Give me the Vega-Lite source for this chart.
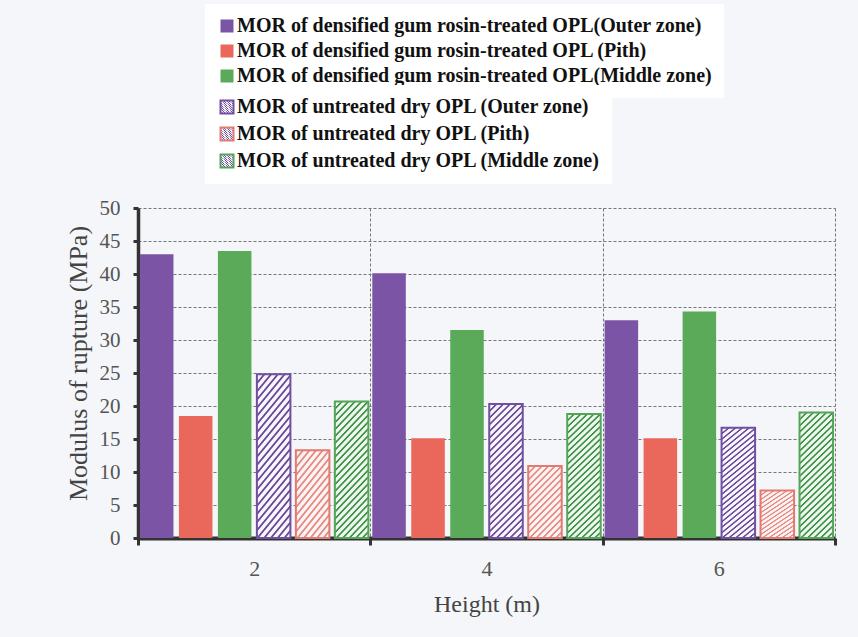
{
  "$schema": "https://vega.github.io/schema/vega-lite/v6.json",
  "width": 697,
  "height": 330,
  "autosize": {"type": "none"},
  "padding": {"left": 138, "top": 208, "right": 23, "bottom": 99},
  "background": "#f4f6f9",
  "config": {
    "view": {"stroke": null},
    "font": "Liberation Serif"
  },
  "data": {
    "values": [
      {"Height": "2", "series": "MOR of densified gum rosin-treated OPL(Outer zone)", "MOR": 43.0},
      {"Height": "2", "series": "MOR of densified gum rosin-treated OPL (Pith)", "MOR": 18.5},
      {"Height": "2", "series": "MOR of densified gum rosin-treated OPL(Middle zone)", "MOR": 43.5},
      {"Height": "2", "series": "MOR of untreated dry OPL (Outer zone)", "MOR": 24.8},
      {"Height": "2", "series": "MOR of untreated dry OPL (Pith)", "MOR": 13.3},
      {"Height": "2", "series": "MOR of untreated dry OPL (Middle zone)", "MOR": 20.7},
      {"Height": "4", "series": "MOR of densified gum rosin-treated OPL(Outer zone)", "MOR": 40.1},
      {"Height": "4", "series": "MOR of densified gum rosin-treated OPL (Pith)", "MOR": 15.1},
      {"Height": "4", "series": "MOR of densified gum rosin-treated OPL(Middle zone)", "MOR": 31.5},
      {"Height": "4", "series": "MOR of untreated dry OPL (Outer zone)", "MOR": 20.3},
      {"Height": "4", "series": "MOR of untreated dry OPL (Pith)", "MOR": 10.9},
      {"Height": "4", "series": "MOR of untreated dry OPL (Middle zone)", "MOR": 18.8},
      {"Height": "6", "series": "MOR of densified gum rosin-treated OPL(Outer zone)", "MOR": 33.0},
      {"Height": "6", "series": "MOR of densified gum rosin-treated OPL (Pith)", "MOR": 15.1},
      {"Height": "6", "series": "MOR of densified gum rosin-treated OPL(Middle zone)", "MOR": 34.3},
      {"Height": "6", "series": "MOR of untreated dry OPL (Outer zone)", "MOR": 16.7},
      {"Height": "6", "series": "MOR of untreated dry OPL (Pith)", "MOR": 7.2},
      {"Height": "6", "series": "MOR of untreated dry OPL (Middle zone)", "MOR": 19.0}
    ]
  },
  "encoding": {
    "x": {
      "field": "Height", "type": "ordinal",
      "scale": {"paddingInner": 0, "paddingOuter": 0},
      "axis": {
        "title": "Height (m)", "labelAngle": 0, "tickBand": "extent",
        "grid": true, "gridDash": [3, 2], "gridColor": "#777", "gridWidth": 1,
        "ticks": true, "tickSize": 7, "tickWidth": 3, "tickColor": "#333",
        "domainColor": "#333", "domainWidth": 4,
        "labelFont": "Liberation Serif", "labelFontSize": 22, "labelColor": "#555", "labelPadding": 13,
        "titleFont": "Liberation Serif", "titleFontSize": 24, "titleFontWeight": "normal", "titleColor": "#444", "titlePadding": 13
      }
    },
    "xOffset": {
      "field": "series", "type": "nominal",
      "scale": {
        "domain": [
          "MOR of densified gum rosin-treated OPL(Outer zone)",
          "MOR of densified gum rosin-treated OPL (Pith)",
          "MOR of densified gum rosin-treated OPL(Middle zone)",
          "MOR of untreated dry OPL (Outer zone)",
          "MOR of untreated dry OPL (Pith)",
          "MOR of untreated dry OPL (Middle zone)"
        ],
        "paddingInner": 0.14, "paddingOuter": 0.05
      }
    },
    "y": {
      "field": "MOR", "type": "quantitative",
      "scale": {"domain": [0, 50], "nice": false},
      "axis": {
        "title": "Modulus of rupture (MPa)",
        "values": [0, 5, 10, 15, 20, 25, 30, 35, 40, 45, 50],
        "grid": true, "gridDash": [3, 2], "gridColor": "#777", "gridWidth": 1,
        "tickSize": 5, "tickWidth": 3, "tickColor": "#333",
        "domainColor": "#333", "domainWidth": 3.5,
        "labelFont": "Liberation Serif", "labelFontSize": 21, "labelColor": "#555", "labelPadding": 13,
        "titleFont": "Liberation Serif", "titleFontSize": 26, "titleFontWeight": "normal", "titleColor": "#444", "titlePadding": 8, "titleY": 155
      }
    }
  },
  "layer": [
    {
      "transform": [{"filter": "indexof(datum.series, 'densified') >= 0"}],
      "mark": {"type": "bar"},
      "encoding": {
        "color": {
          "field": "series", "type": "nominal",
          "scale": {
            "domain": [
              "MOR of densified gum rosin-treated OPL(Outer zone)",
              "MOR of densified gum rosin-treated OPL (Pith)",
              "MOR of densified gum rosin-treated OPL(Middle zone)"
            ],
            "range": ["#7b54a6", "#e9675b", "#5aaa5a"]
          },
          "legend": {
            "orient": "none", "legendX": 67, "legendY": -204,
            "title": null,
            "labelFont": "Liberation Serif", "labelFontSize": 20, "labelFontWeight": "bold", "labelColor": "#111",
            "labelLimit": 0, "labelOffset": 0,
            "symbolType": "square", "symbolSize": 169,
            "rowPadding": 5, "padding": 12, "fillColor": "#ffffff"
          }
        }
      }
    },
    {
      "transform": [{"filter": "datum.series === 'MOR of untreated dry OPL (Outer zone)'"}],
      "mark": {
        "type": "bar", "strokeWidth": 2,
        "fill": {
          "gradient": "linear", "x1": 0, "y1": 0, "x2": 0.292, "y2": 1.176,
          "stops": [
            {"offset": 0, "color": "#6b4c9a"}, {"offset": 0.008, "color": "#6b4c9a"}, {"offset": 0.014, "color": "#f8f6fb"}, {"offset": 0.034, "color": "#f8f6fb"},
            {"offset": 0.04, "color": "#6b4c9a"}, {"offset": 0.048, "color": "#6b4c9a"}, {"offset": 0.054, "color": "#f8f6fb"}, {"offset": 0.074, "color": "#f8f6fb"},
            {"offset": 0.08, "color": "#6b4c9a"}, {"offset": 0.088, "color": "#6b4c9a"}, {"offset": 0.094, "color": "#f8f6fb"}, {"offset": 0.114, "color": "#f8f6fb"},
            {"offset": 0.12, "color": "#6b4c9a"}, {"offset": 0.128, "color": "#6b4c9a"}, {"offset": 0.134, "color": "#f8f6fb"}, {"offset": 0.154, "color": "#f8f6fb"},
            {"offset": 0.16, "color": "#6b4c9a"}, {"offset": 0.168, "color": "#6b4c9a"}, {"offset": 0.174, "color": "#f8f6fb"}, {"offset": 0.194, "color": "#f8f6fb"},
            {"offset": 0.2, "color": "#6b4c9a"}, {"offset": 0.208, "color": "#6b4c9a"}, {"offset": 0.214, "color": "#f8f6fb"}, {"offset": 0.234, "color": "#f8f6fb"},
            {"offset": 0.24, "color": "#6b4c9a"}, {"offset": 0.248, "color": "#6b4c9a"}, {"offset": 0.254, "color": "#f8f6fb"}, {"offset": 0.274, "color": "#f8f6fb"},
            {"offset": 0.28, "color": "#6b4c9a"}, {"offset": 0.288, "color": "#6b4c9a"}, {"offset": 0.294, "color": "#f8f6fb"}, {"offset": 0.314, "color": "#f8f6fb"},
            {"offset": 0.32, "color": "#6b4c9a"}, {"offset": 0.328, "color": "#6b4c9a"}, {"offset": 0.334, "color": "#f8f6fb"}, {"offset": 0.354, "color": "#f8f6fb"},
            {"offset": 0.36, "color": "#6b4c9a"}, {"offset": 0.368, "color": "#6b4c9a"}, {"offset": 0.374, "color": "#f8f6fb"}, {"offset": 0.394, "color": "#f8f6fb"},
            {"offset": 0.4, "color": "#6b4c9a"}, {"offset": 0.408, "color": "#6b4c9a"}, {"offset": 0.414, "color": "#f8f6fb"}, {"offset": 0.434, "color": "#f8f6fb"},
            {"offset": 0.44, "color": "#6b4c9a"}, {"offset": 0.448, "color": "#6b4c9a"}, {"offset": 0.454, "color": "#f8f6fb"}, {"offset": 0.474, "color": "#f8f6fb"},
            {"offset": 0.48, "color": "#6b4c9a"}, {"offset": 0.488, "color": "#6b4c9a"}, {"offset": 0.494, "color": "#f8f6fb"}, {"offset": 0.514, "color": "#f8f6fb"},
            {"offset": 0.52, "color": "#6b4c9a"}, {"offset": 0.528, "color": "#6b4c9a"}, {"offset": 0.534, "color": "#f8f6fb"}, {"offset": 0.554, "color": "#f8f6fb"},
            {"offset": 0.56, "color": "#6b4c9a"}, {"offset": 0.568, "color": "#6b4c9a"}, {"offset": 0.574, "color": "#f8f6fb"}, {"offset": 0.594, "color": "#f8f6fb"},
            {"offset": 0.6, "color": "#6b4c9a"}, {"offset": 0.608, "color": "#6b4c9a"}, {"offset": 0.614, "color": "#f8f6fb"}, {"offset": 0.634, "color": "#f8f6fb"},
            {"offset": 0.64, "color": "#6b4c9a"}, {"offset": 0.648, "color": "#6b4c9a"}, {"offset": 0.654, "color": "#f8f6fb"}, {"offset": 0.674, "color": "#f8f6fb"},
            {"offset": 0.68, "color": "#6b4c9a"}, {"offset": 0.688, "color": "#6b4c9a"}, {"offset": 0.694, "color": "#f8f6fb"}, {"offset": 0.714, "color": "#f8f6fb"},
            {"offset": 0.72, "color": "#6b4c9a"}, {"offset": 0.728, "color": "#6b4c9a"}, {"offset": 0.734, "color": "#f8f6fb"}, {"offset": 0.754, "color": "#f8f6fb"},
            {"offset": 0.76, "color": "#6b4c9a"}, {"offset": 0.768, "color": "#6b4c9a"}, {"offset": 0.774, "color": "#f8f6fb"}, {"offset": 0.794, "color": "#f8f6fb"},
            {"offset": 0.8, "color": "#6b4c9a"}, {"offset": 0.808, "color": "#6b4c9a"}, {"offset": 0.814, "color": "#f8f6fb"}, {"offset": 0.834, "color": "#f8f6fb"},
            {"offset": 0.84, "color": "#6b4c9a"}, {"offset": 0.848, "color": "#6b4c9a"}, {"offset": 0.854, "color": "#f8f6fb"}, {"offset": 0.874, "color": "#f8f6fb"},
            {"offset": 0.88, "color": "#6b4c9a"}, {"offset": 0.888, "color": "#6b4c9a"}, {"offset": 0.894, "color": "#f8f6fb"}, {"offset": 0.914, "color": "#f8f6fb"},
            {"offset": 0.92, "color": "#6b4c9a"}, {"offset": 0.928, "color": "#6b4c9a"}, {"offset": 0.934, "color": "#f8f6fb"}, {"offset": 0.954, "color": "#f8f6fb"},
            {"offset": 0.96, "color": "#6b4c9a"}, {"offset": 0.968, "color": "#6b4c9a"}, {"offset": 0.974, "color": "#f8f6fb"}, {"offset": 0.994, "color": "#f8f6fb"},
            {"offset": 1, "color": "#6b4c9a"}
          ]
        }
      },
      "encoding": {
        "stroke": {
          "field": "series", "type": "nominal",
          "scale": {
            "domain": ["MOR of untreated dry OPL (Outer zone)", "MOR of untreated dry OPL (Pith)", "MOR of untreated dry OPL (Middle zone)"],
            "range": ["#7050a0", "#e27a72", "#55a558"]
          },
          "legend": {
            "orient": "none", "legendX": 67, "legendY": -123,
            "title": null,
            "labelFont": "Liberation Serif", "labelFontSize": 20, "labelFontWeight": "bold", "labelColor": "#111",
            "labelLimit": 0, "labelOffset": 0,
            "symbolType": "square", "symbolSize": 169, "symbolStrokeWidth": 2, "symbolFillColor": "#eeeaf0",
            "rowPadding": 5, "padding": 12, "fillColor": "#ffffff"
          }
        }
      }
    },
    {
      "transform": [{"filter": "datum.series === 'MOR of untreated dry OPL (Pith)'"}],
      "mark": {
        "type": "bar", "strokeWidth": 2,
        "fill": {
          "gradient": "linear", "x1": 0, "y1": 0, "x2": 0.567, "y2": 1.204,
          "stops": [
            {"offset": 0, "color": "#e68a84"}, {"offset": 0.0125, "color": "#e68a84"}, {"offset": 0.022, "color": "#fcf4f3"}, {"offset": 0.053, "color": "#fcf4f3"},
            {"offset": 0.0625, "color": "#e68a84"}, {"offset": 0.075, "color": "#e68a84"}, {"offset": 0.0845, "color": "#fcf4f3"}, {"offset": 0.1155, "color": "#fcf4f3"},
            {"offset": 0.125, "color": "#e68a84"}, {"offset": 0.1375, "color": "#e68a84"}, {"offset": 0.147, "color": "#fcf4f3"}, {"offset": 0.178, "color": "#fcf4f3"},
            {"offset": 0.1875, "color": "#e68a84"}, {"offset": 0.2, "color": "#e68a84"}, {"offset": 0.2095, "color": "#fcf4f3"}, {"offset": 0.2405, "color": "#fcf4f3"},
            {"offset": 0.25, "color": "#e68a84"}, {"offset": 0.2625, "color": "#e68a84"}, {"offset": 0.272, "color": "#fcf4f3"}, {"offset": 0.303, "color": "#fcf4f3"},
            {"offset": 0.3125, "color": "#e68a84"}, {"offset": 0.325, "color": "#e68a84"}, {"offset": 0.3345, "color": "#fcf4f3"}, {"offset": 0.3655, "color": "#fcf4f3"},
            {"offset": 0.375, "color": "#e68a84"}, {"offset": 0.3875, "color": "#e68a84"}, {"offset": 0.397, "color": "#fcf4f3"}, {"offset": 0.428, "color": "#fcf4f3"},
            {"offset": 0.4375, "color": "#e68a84"}, {"offset": 0.45, "color": "#e68a84"}, {"offset": 0.4595, "color": "#fcf4f3"}, {"offset": 0.4905, "color": "#fcf4f3"},
            {"offset": 0.5, "color": "#e68a84"}, {"offset": 0.5125, "color": "#e68a84"}, {"offset": 0.522, "color": "#fcf4f3"}, {"offset": 0.553, "color": "#fcf4f3"},
            {"offset": 0.5625, "color": "#e68a84"}, {"offset": 0.575, "color": "#e68a84"}, {"offset": 0.5845, "color": "#fcf4f3"}, {"offset": 0.6155, "color": "#fcf4f3"},
            {"offset": 0.625, "color": "#e68a84"}, {"offset": 0.6375, "color": "#e68a84"}, {"offset": 0.647, "color": "#fcf4f3"}, {"offset": 0.678, "color": "#fcf4f3"},
            {"offset": 0.6875, "color": "#e68a84"}, {"offset": 0.7, "color": "#e68a84"}, {"offset": 0.7095, "color": "#fcf4f3"}, {"offset": 0.7405, "color": "#fcf4f3"},
            {"offset": 0.75, "color": "#e68a84"}, {"offset": 0.7625, "color": "#e68a84"}, {"offset": 0.772, "color": "#fcf4f3"}, {"offset": 0.803, "color": "#fcf4f3"},
            {"offset": 0.8125, "color": "#e68a84"}, {"offset": 0.825, "color": "#e68a84"}, {"offset": 0.8345, "color": "#fcf4f3"}, {"offset": 0.8655, "color": "#fcf4f3"},
            {"offset": 0.875, "color": "#e68a84"}, {"offset": 0.8875, "color": "#e68a84"}, {"offset": 0.897, "color": "#fcf4f3"}, {"offset": 0.928, "color": "#fcf4f3"},
            {"offset": 0.9375, "color": "#e68a84"}, {"offset": 0.95, "color": "#e68a84"}, {"offset": 0.9595, "color": "#fcf4f3"}, {"offset": 0.9905, "color": "#fcf4f3"},
            {"offset": 1, "color": "#e68a84"}
          ]
        }
      },
      "encoding": {
        "stroke": {
          "field": "series", "type": "nominal",
          "scale": {
            "domain": ["MOR of untreated dry OPL (Outer zone)", "MOR of untreated dry OPL (Pith)", "MOR of untreated dry OPL (Middle zone)"],
            "range": ["#7050a0", "#e27a72", "#55a558"]
          }
        }
      }
    },
    {
      "transform": [{"filter": "datum.series === 'MOR of untreated dry OPL (Middle zone)'"}],
      "mark": {
        "type": "bar", "strokeWidth": 2,
        "fill": {
          "gradient": "linear", "x1": 0, "y1": 0, "x2": 0.304, "y2": 1.179,
          "stops": [
            {"offset": 0, "color": "#3f9147"}, {"offset": 0.008, "color": "#3f9147"}, {"offset": 0.014, "color": "#eef7ee"}, {"offset": 0.034, "color": "#eef7ee"},
            {"offset": 0.04, "color": "#3f9147"}, {"offset": 0.048, "color": "#3f9147"}, {"offset": 0.054, "color": "#eef7ee"}, {"offset": 0.074, "color": "#eef7ee"},
            {"offset": 0.08, "color": "#3f9147"}, {"offset": 0.088, "color": "#3f9147"}, {"offset": 0.094, "color": "#eef7ee"}, {"offset": 0.114, "color": "#eef7ee"},
            {"offset": 0.12, "color": "#3f9147"}, {"offset": 0.128, "color": "#3f9147"}, {"offset": 0.134, "color": "#eef7ee"}, {"offset": 0.154, "color": "#eef7ee"},
            {"offset": 0.16, "color": "#3f9147"}, {"offset": 0.168, "color": "#3f9147"}, {"offset": 0.174, "color": "#eef7ee"}, {"offset": 0.194, "color": "#eef7ee"},
            {"offset": 0.2, "color": "#3f9147"}, {"offset": 0.208, "color": "#3f9147"}, {"offset": 0.214, "color": "#eef7ee"}, {"offset": 0.234, "color": "#eef7ee"},
            {"offset": 0.24, "color": "#3f9147"}, {"offset": 0.248, "color": "#3f9147"}, {"offset": 0.254, "color": "#eef7ee"}, {"offset": 0.274, "color": "#eef7ee"},
            {"offset": 0.28, "color": "#3f9147"}, {"offset": 0.288, "color": "#3f9147"}, {"offset": 0.294, "color": "#eef7ee"}, {"offset": 0.314, "color": "#eef7ee"},
            {"offset": 0.32, "color": "#3f9147"}, {"offset": 0.328, "color": "#3f9147"}, {"offset": 0.334, "color": "#eef7ee"}, {"offset": 0.354, "color": "#eef7ee"},
            {"offset": 0.36, "color": "#3f9147"}, {"offset": 0.368, "color": "#3f9147"}, {"offset": 0.374, "color": "#eef7ee"}, {"offset": 0.394, "color": "#eef7ee"},
            {"offset": 0.4, "color": "#3f9147"}, {"offset": 0.408, "color": "#3f9147"}, {"offset": 0.414, "color": "#eef7ee"}, {"offset": 0.434, "color": "#eef7ee"},
            {"offset": 0.44, "color": "#3f9147"}, {"offset": 0.448, "color": "#3f9147"}, {"offset": 0.454, "color": "#eef7ee"}, {"offset": 0.474, "color": "#eef7ee"},
            {"offset": 0.48, "color": "#3f9147"}, {"offset": 0.488, "color": "#3f9147"}, {"offset": 0.494, "color": "#eef7ee"}, {"offset": 0.514, "color": "#eef7ee"},
            {"offset": 0.52, "color": "#3f9147"}, {"offset": 0.528, "color": "#3f9147"}, {"offset": 0.534, "color": "#eef7ee"}, {"offset": 0.554, "color": "#eef7ee"},
            {"offset": 0.56, "color": "#3f9147"}, {"offset": 0.568, "color": "#3f9147"}, {"offset": 0.574, "color": "#eef7ee"}, {"offset": 0.594, "color": "#eef7ee"},
            {"offset": 0.6, "color": "#3f9147"}, {"offset": 0.608, "color": "#3f9147"}, {"offset": 0.614, "color": "#eef7ee"}, {"offset": 0.634, "color": "#eef7ee"},
            {"offset": 0.64, "color": "#3f9147"}, {"offset": 0.648, "color": "#3f9147"}, {"offset": 0.654, "color": "#eef7ee"}, {"offset": 0.674, "color": "#eef7ee"},
            {"offset": 0.68, "color": "#3f9147"}, {"offset": 0.688, "color": "#3f9147"}, {"offset": 0.694, "color": "#eef7ee"}, {"offset": 0.714, "color": "#eef7ee"},
            {"offset": 0.72, "color": "#3f9147"}, {"offset": 0.728, "color": "#3f9147"}, {"offset": 0.734, "color": "#eef7ee"}, {"offset": 0.754, "color": "#eef7ee"},
            {"offset": 0.76, "color": "#3f9147"}, {"offset": 0.768, "color": "#3f9147"}, {"offset": 0.774, "color": "#eef7ee"}, {"offset": 0.794, "color": "#eef7ee"},
            {"offset": 0.8, "color": "#3f9147"}, {"offset": 0.808, "color": "#3f9147"}, {"offset": 0.814, "color": "#eef7ee"}, {"offset": 0.834, "color": "#eef7ee"},
            {"offset": 0.84, "color": "#3f9147"}, {"offset": 0.848, "color": "#3f9147"}, {"offset": 0.854, "color": "#eef7ee"}, {"offset": 0.874, "color": "#eef7ee"},
            {"offset": 0.88, "color": "#3f9147"}, {"offset": 0.888, "color": "#3f9147"}, {"offset": 0.894, "color": "#eef7ee"}, {"offset": 0.914, "color": "#eef7ee"},
            {"offset": 0.92, "color": "#3f9147"}, {"offset": 0.928, "color": "#3f9147"}, {"offset": 0.934, "color": "#eef7ee"}, {"offset": 0.954, "color": "#eef7ee"},
            {"offset": 0.96, "color": "#3f9147"}, {"offset": 0.968, "color": "#3f9147"}, {"offset": 0.974, "color": "#eef7ee"}, {"offset": 0.994, "color": "#eef7ee"},
            {"offset": 1, "color": "#3f9147"}
          ]
        }
      },
      "encoding": {
        "stroke": {
          "field": "series", "type": "nominal",
          "scale": {
            "domain": ["MOR of untreated dry OPL (Outer zone)", "MOR of untreated dry OPL (Pith)", "MOR of untreated dry OPL (Middle zone)"],
            "range": ["#7050a0", "#e27a72", "#55a558"]
          }
        }
      }
    }
  ]
}
